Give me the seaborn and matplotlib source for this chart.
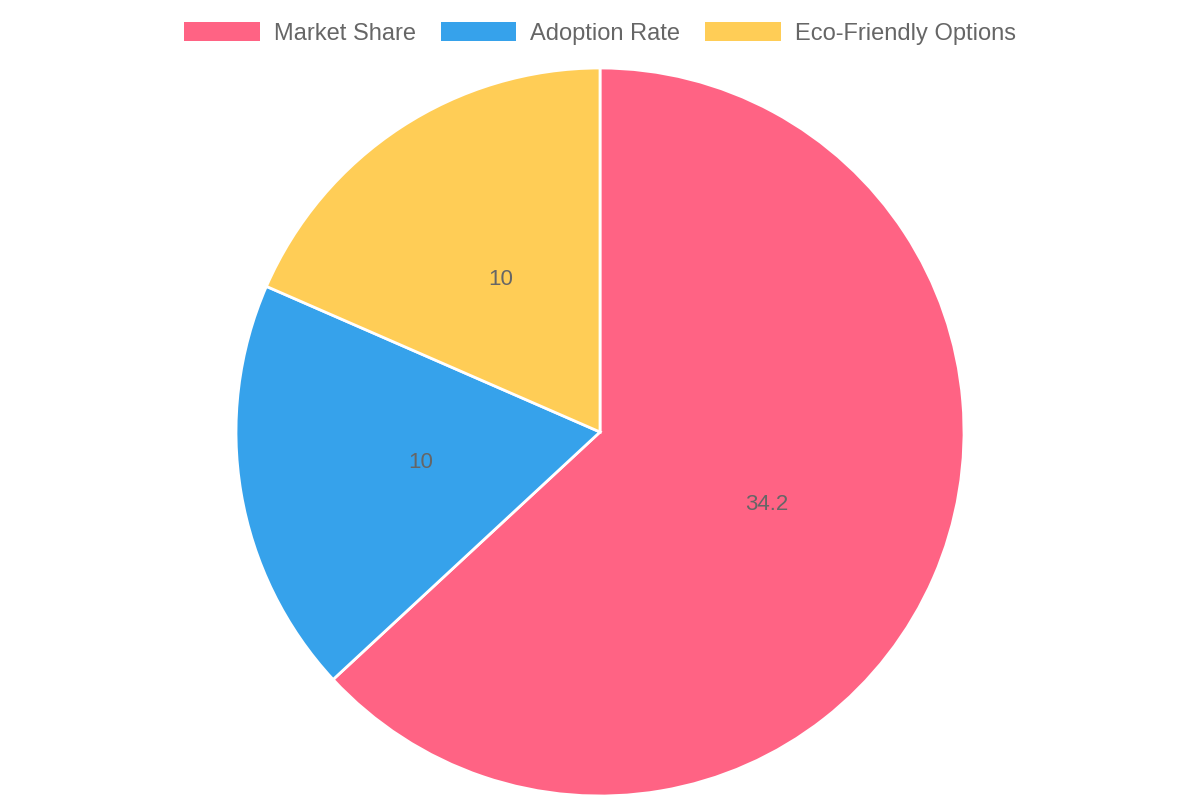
import matplotlib
matplotlib.use("Agg")
import matplotlib.pyplot as plt
import seaborn as sns

categories = ["Market Share", "Adoption Rate", "Eco-Friendly Options"]
values = [34.2, 10, 10]
colors = ["#FF6384", "#36A2EB", "#FFCD56"]

sns.set_theme(style="white")
plt.rcParams["font.family"] = ["Liberation Sans", "DejaVu Sans"]

fig = plt.figure(figsize=(12, 8), dpi=100)
ax = fig.add_axes([0.19667, 0.005, 0.60667, 0.91])

total = sum(values)
wedges, texts, autotexts = ax.pie(
    values,
    colors=colors,
    startangle=90,
    counterclock=False,
    radius=1,
    autopct=lambda p: f"{p * total / 100:.1f}".rstrip("0").rstrip("."),
    pctdistance=0.5,
    wedgeprops={"edgecolor": "white", "linewidth": 2},
    textprops={"color": "#666666", "fontsize": 16},
)
ax.set_xlim(-1.0, 1.0)
ax.set_ylim(-1.0, 1.0)
ax.set_aspect("equal")
ax.axis("off")

leg = fig.legend(
    wedges, categories,
    loc="center", bbox_to_anchor=(0.5, 0.958),
    ncol=3, frameon=False, fontsize=17,
    handlelength=3.2, handleheight=0.85,
    handletextpad=0.6, columnspacing=1.05,
)
for t in leg.get_texts():
    t.set_color("#666666")
for h in leg.legend_handles:
    h.set_edgecolor("none")

fig.savefig("out.png", dpi=100)
